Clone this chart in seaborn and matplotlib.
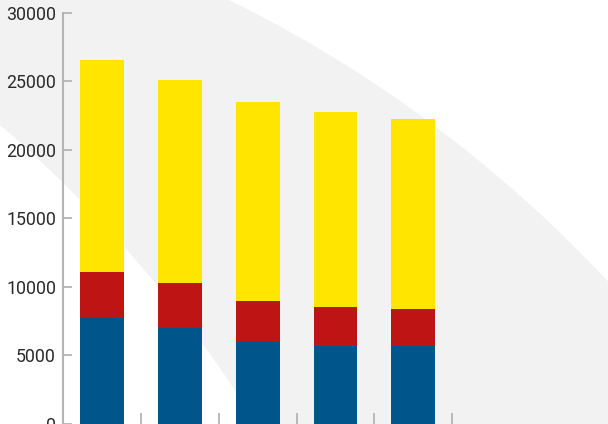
import numpy as np
import pandas as pd
import matplotlib
matplotlib.use('Agg')
import matplotlib.pyplot as plt
from matplotlib.patches import Circle
import seaborn as sns

# values (stack order from bottom: blue, red, yellow)
categorias = ['A', 'B', 'C', 'D', 'E']
azul = [7700, 7000, 6000, 5700, 5650]
vermelho = [3350, 3250, 2950, 2850, 2750]
amarelo = [15500, 14850, 14550, 14200, 13850]
yticks = [0, 5000, 10000, 15000, 20000, 25000, 30000]

df = pd.DataFrame({'cat': categorias, 'azul': azul,
                   'vermelho': vermelho, 'amarelo': amarelo})
df['base_vermelho'] = df['azul'] + df['vermelho']
df['total'] = df['base_vermelho'] + df['amarelo']

sns.set_style('white')
plt.rcParams['font.family'] = ['Roboto', 'DejaVu Sans']

fig = plt.figure(figsize=(6.08, 4.24), dpi=100)
fig.patch.set_facecolor('white')

# decorative background band (two offset circles, in pixel units)
bg = fig.add_axes([0, 0, 1, 1], zorder=0)
bg.set_xlim(0, 608)
bg.set_ylim(424, 0)
bg.axis('off')
bg.add_patch(Circle((-350, 1175), 1310, facecolor='#f2f2f2', edgecolor='none'))
bg.add_patch(Circle((-857, 1121), 1314, facecolor='white', edgecolor='none'))

ax = fig.add_axes([63 / 608, 0.4 / 424, 1 - 63 / 608, 410.6 / 424], zorder=1)
ax.set_facecolor('none')

largura = 0.565
sns.barplot(data=df, x='cat', y='total', color='#ffe500', width=largura,
            saturation=1, linewidth=0, ax=ax)
sns.barplot(data=df, x='cat', y='base_vermelho', color='#be1414', width=largura,
            saturation=1, linewidth=0, ax=ax)
sns.barplot(data=df, x='cat', y='azul', color='#00558a', width=largura,
            saturation=1, linewidth=0, ax=ax)

ax.set_xlim(-0.5, 6.5)
ax.set_ylim(0, 30000)
ax.set_yticks(yticks)
ax.set_yticklabels([str(v) for v in yticks])
ax.set_xticks(np.arange(len(categorias)) + 0.5)
ax.set_xticklabels([])
ax.set_xlabel('')
ax.set_ylabel('')

for lado in ['top', 'right', 'bottom']:
    ax.spines[lado].set_visible(False)
ax.spines['left'].set_color('#b4b4b4')
ax.spines['left'].set_linewidth(1.5)

ax.tick_params(axis='y', left=True, direction='in', length=6.5, width=1.3,
               color='#b4b4b4', labelsize=12.8, labelcolor='#2a2a2a', pad=5)
ax.tick_params(axis='x', bottom=True, direction='in', length=8, width=1.3,
               color='#b4b4b4')

fig.savefig('out.png', dpi=100)
